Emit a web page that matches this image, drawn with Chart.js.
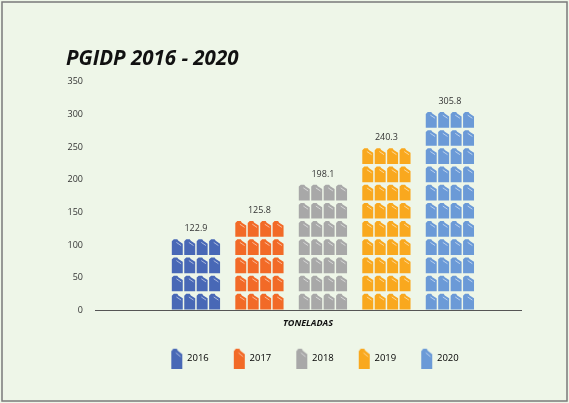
<!DOCTYPE html>
<html>
<head>
<meta charset="utf-8">
<title>PGIDP 2016 - 2020</title>
<script src="https://cdn.jsdelivr.net/npm/chart.js@4.4.1/dist/chart.umd.min.js"></script>
<style>
  html, body { margin: 0; padding: 0; background: #eef6e8; }
  #wrap { width: 569px; height: 403px; position: relative; }
</style>
</head>
<body>
<div id="wrap"><canvas id="pgidpChart"></canvas></div>
<script>
// PGIDP 2016 - 2020, toneladas, drawn as stacks of cans
const years = [2016, 2017, 2018, 2019, 2020];
const tons = [122.9, 125.8, 198.1, 240.3, 305.8];
const canRows = [4, 5, 7, 9, 11];   // rows of cans in each column
const yTicks = [0, 50, 100, 150, 200, 250, 300, 350];
const canColors = ['#4868b6', '#f26a27', '#a8a8a8', '#f9a81e', '#6b9ad7'];

const ROW_TONS = 27.8;   // tons covered by one row of cans
const CAN_COLS = 4;
const FONT = "'Open Sans', sans-serif";

// jerrycan outline
function drawCan(ctx, x, y, w, h, color) {
  ctx.save();
  ctx.fillStyle = color;
  ctx.beginPath();
  ctx.moveTo(x, y + h);
  ctx.lineTo(x, y + h * 0.12);
  ctx.lineTo(x + w * 0.18, y);
  ctx.lineTo(x + w * 0.5, y);
  ctx.lineTo(x + w * 0.6, y + h * 0.1);
  ctx.lineTo(x + w, y + h * 0.28);
  ctx.lineTo(x + w, y + h);
  ctx.closePath();
  ctx.fill();
  // handle highlight
  ctx.strokeStyle = 'rgba(255,255,255,0.6)';
  ctx.lineWidth = 0.9;
  ctx.beginPath();
  ctx.moveTo(x + w * 0.42, y + h * 0.2);
  ctx.lineTo(x + w * 0.85, y + h * 0.4);
  ctx.stroke();
  ctx.restore();
}

// legend icons: small canvases used as point styles
function legendIcon(color) {
  const c = document.createElement('canvas');
  c.width = 16;
  c.height = 21;
  drawCan(c.getContext('2d'), 2, 1, 11, 20, color);
  return c;
}
const legendIcons = canColors.map(legendIcon);

const background = {
  id: 'background',
  beforeDraw(chart) {
    const { ctx, width, height } = chart;
    ctx.save();
    ctx.fillStyle = '#eef6e8';
    ctx.fillRect(0, 0, width, height);
    ctx.strokeStyle = '#7a7a7a';
    ctx.lineWidth = 1.5;
    ctx.strokeRect(2, 2, width - 4, height - 4);
    ctx.restore();
  }
};

const canStacks = {
  id: 'canStacks',
  afterDatasetsDraw(chart) {
    const { ctx } = chart;
    const yScale = chart.scales.y;
    const meta = chart.getDatasetMeta(0);
    const gap = 1.5;
    meta.data.forEach((bar, i) => {
      const { x, width } = bar.getProps(['x', 'width'], true);
      const left = x - width / 2;
      const w = (width - gap * (CAN_COLS - 1)) / CAN_COLS;
      for (let r = 0; r < canRows[i]; r++) {
        const yb = yScale.getPixelForValue(r * ROW_TONS) - 1;
        const yt = yScale.getPixelForValue((r + 1) * ROW_TONS);
        const h = yb - yt - 1.5;
        for (let c = 0; c < CAN_COLS; c++) {
          drawCan(ctx, left + c * (w + gap), yb - h, w, h, canColors[i]);
        }
      }
      const top = yScale.getPixelForValue(canRows[i] * ROW_TONS);
      ctx.save();
      ctx.font = '9px ' + FONT;
      ctx.fillStyle = '#333';
      ctx.textAlign = 'center';
      ctx.textBaseline = 'middle';
      ctx.fillText(tons[i].toFixed(1), x, top - 9);
      ctx.restore();
    });
  }
};

new Chart(document.getElementById('pgidpChart'), {
  type: 'bar',
  data: {
    datasets: [{
      data: years.map((yr, i) => ({ x: yr, y: tons[i] })),
      backgroundColor: 'rgba(0,0,0,0)',
      categoryPercentage: 1,
      barPercentage: 0.76
    }]
  },
  options: {
    responsive: true,
    maintainAspectRatio: false,
    animation: false,
    layout: { padding: { left: 66, right: 4, top: 47, bottom: 30 } },
    scales: {
      x: {
        type: 'linear',
        offset: false,
        min: 2014.41,
        max: 2021.12,
        grid: { display: false, drawTicks: false },
        ticks: { display: false },
        border: { display: true, color: '#555', width: 1 },
        title: {
          display: true,
          text: 'TONELADAS',
          color: '#111',
          font: { family: FONT, size: 9, weight: 'bold', style: 'italic', lineHeight: 1 },
          padding: { top: 8, bottom: 0 }
        }
      },
      y: {
        min: 0,
        max: 350,
        afterBuildTicks: s => { s.ticks = yTicks.map(v => ({ value: v })); },
        afterFit: s => { s.width = 29; },
        grid: { display: false, drawTicks: false },
        border: { display: false },
        ticks: { color: '#333', padding: 12, font: { family: FONT, size: 9 } }
      },
      // spacer on the right so the axis line stops short of the frame
      right: {
        position: 'right',
        display: true,
        grid: { display: false, drawTicks: false },
        border: { display: false },
        ticks: { display: false },
        afterFit: s => { s.width = 44; }
      }
    },
    plugins: {
      title: {
        display: true,
        text: 'PGIDP 2016 - 2020',
        align: 'start',
        color: '#111',
        font: { family: FONT, size: 20.5, weight: 'bold', style: 'italic' },
        padding: { top: 0, bottom: 10 }
      },
      legend: {
        position: 'bottom',
        labels: {
          usePointStyle: true,
          pointStyleWidth: 10,
          padding: 26,
          color: '#222',
          font: { family: FONT, size: 9.5 },
          generateLabels: () => years.map((yr, i) => ({
            text: String(yr),
            pointStyle: legendIcons[i],
            fillStyle: canColors[i],
            strokeStyle: canColors[i],
            lineWidth: 0,
            hidden: false,
            datasetIndex: 0
          }))
        }
      },
      tooltip: { enabled: false }
    }
  },
  plugins: [background, canStacks]
});
</script>
</body>
</html>
